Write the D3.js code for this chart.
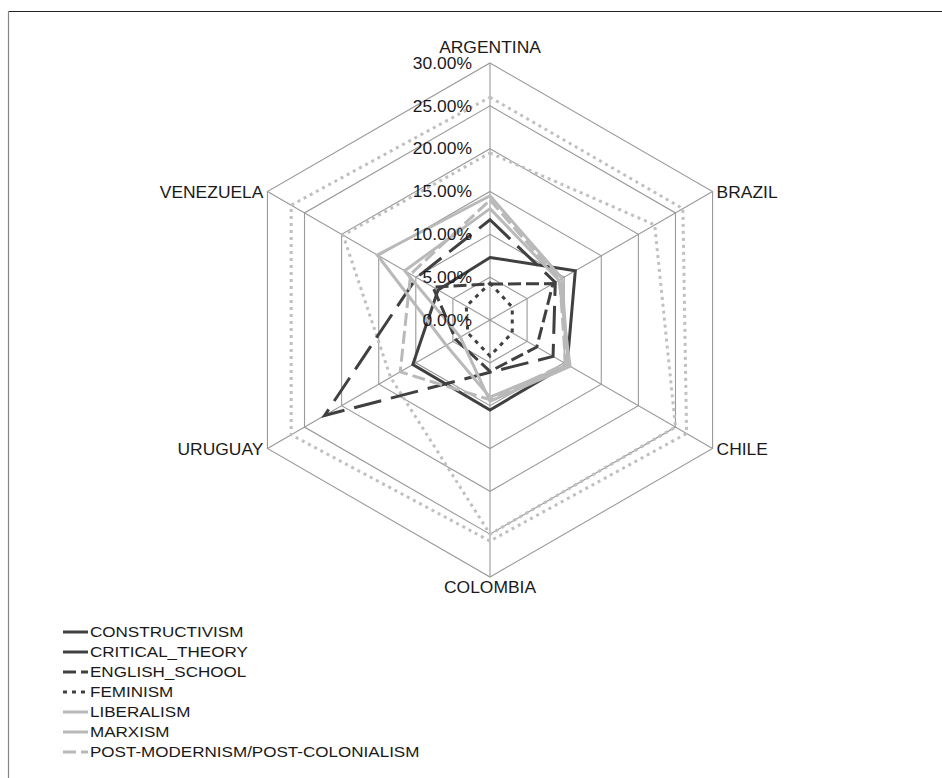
<!DOCTYPE html>
<html>
<head>
<meta charset="utf-8">
<script src="https://cdn.jsdelivr.net/npm/d3@7"></script>
<style>
  html, body { margin: 0; padding: 0; background: #fff; }
  text { font-family: "Liberation Sans", Arial, sans-serif; fill: #1a1a1a; }
</style>
</head>
<body>
<div id="chart"></div>
<script>
const width = 942;
const height = 778;
const cx = 490, cy = 320, R = 257;

// categories (clockwise from top)
const countries = ["ARGENTINA", "BRAZIL", "CHILE", "COLOMBIA", "URUGUAY", "VENEZUELA"];
const tickValues = [0, 5, 10, 15, 20, 25, 30];

// series values (%), same order as countries
const constructivism = [7.3, 11.5, 10.4, 10.5, 10.4, 7.0];
const criticalTheory = [11.7, 8.8, 8.5, 6.1, 22.3, 9.9];
const englishSchool  = [4.2, 8.5, 6.3, 6.0, 4.6, 7.7];
const feminism       = [4.3, 3.0, 3.0, 4.2, 3.0, 3.2];
const liberalism     = [14.5, 9.7, 10.5, 9.0, 5.9, 15.2];
const marxism        = [13.0, 9.3, 10.8, 9.5, 4.0, 11.5];
const postModernism  = [14.0, 9.4, 10.2, 9.3, 12.1, 10.7];
// two more series whose legend rows are cut off in the original
const realism        = [26.0, 26.0, 26.5, 25.8, 26.8, 26.8];
const otherTheories  = [19.5, 22.2, 25.0, 25.0, 13.4, 19.8];

const legendNames = ["CONSTRUCTIVISM", "CRITICAL_THEORY", "ENGLISH_SCHOOL", "FEMINISM",
  "LIBERALISM", "MARXISM", "POST-MODERNISM/POST-COLONIALISM"];

const dark = "#404040", light = "#b9b9b9";

// drawing order: background dotted first
const series = [
  { name: "REALISM", values: realism, color: "#c0c0c0", dash: "3,4", legend: false },
  { name: "OTHER", values: otherTheories, color: "#c0c0c0", dash: "3,4", legend: false },
  { name: legendNames[0], values: constructivism, color: dark, dash: null, legend: true },
  { name: legendNames[1], values: criticalTheory, color: dark, dash: "28,10", legend: true },
  { name: legendNames[2], values: englishSchool, color: dark, dash: "13,5", legend: true },
  { name: legendNames[3], values: feminism, color: dark, dash: "4,5", legend: true },
  { name: legendNames[4], values: liberalism, color: light, dash: null, legend: true },
  { name: legendNames[5], values: marxism, color: light, dash: null, legend: true },
  { name: legendNames[6], values: postModernism, color: light, dash: "13,5", legend: true }
];

const svg = d3.select("#chart").append("svg")
  .attr("width", width)
  .attr("height", height);

// frame (top + left edges visible in the original)
svg.append("line").attr("x1", 8).attr("x2", width).attr("y1", 11.5).attr("y2", 11.5)
  .attr("stroke", "#222").attr("stroke-width", 1.2);
svg.append("line").attr("x1", 8.5).attr("x2", 8.5).attr("y1", 11).attr("y2", height)
  .attr("stroke", "#888").attr("stroke-width", 1.2);

const rScale = d3.scaleLinear().domain([0, 30]).range([0, R]);
const angle = i => i * 2 * Math.PI / countries.length;
const pt = (i, v) => [cx + rScale(v) * Math.sin(angle(i)), cy - rScale(v) * Math.cos(angle(i))];

const closed = d3.line().curve(d3.curveLinearClosed);

// grid rings
svg.append("g").selectAll("path")
  .data(tickValues.filter(t => t > 0))
  .join("path")
  .attr("d", t => closed(countries.map((c, i) => pt(i, t))))
  .attr("fill", "none")
  .attr("stroke", "#9a9a9a")
  .attr("stroke-width", 1.1);

// spokes
svg.append("g").selectAll("line")
  .data(countries)
  .join("line")
  .attr("x1", cx).attr("y1", cy)
  .attr("x2", (c, i) => pt(i, 30)[0])
  .attr("y2", (c, i) => pt(i, 30)[1])
  .attr("stroke", "#9a9a9a")
  .attr("stroke-width", 1.1);

// series
svg.append("g").selectAll("path")
  .data(series)
  .join("path")
  .attr("d", s => closed(s.values.map((v, i) => pt(i, v))))
  .attr("fill", "none")
  .attr("stroke", s => s.color)
  .attr("stroke-width", 3)
  .attr("stroke-dasharray", s => s.dash)
  .attr("stroke-linejoin", "miter");

// tick labels
const fmt = d3.format(".2%");
svg.append("g").selectAll("text")
  .data(tickValues)
  .join("text")
  .attr("transform", t => `translate(472,${cy - rScale(t)}) scale(1.07,1)`)
  .attr("text-anchor", "end")
  .attr("dy", "0.35em")
  .style("font-size", "16.3px")
  .text(t => fmt(t / 100));

// category labels
svg.append("g").selectAll("text")
  .data(countries)
  .join("text")
  .attr("transform", (c, i) => {
    const [x, y] = pt(i, 30);
    const s = Math.sin(angle(i));
    let tx = x, ty = y;
    if (Math.abs(s) < 0.01) ty = Math.cos(angle(i)) > 0 ? y - 10 : y + 16;
    else { tx = x + (s > 0 ? 4 : -4); ty = y + 1; }
    return `translate(${tx},${ty}) scale(1.07,1)`;
  })
  .attr("text-anchor", (c, i) => {
    const s = Math.sin(angle(i));
    return Math.abs(s) < 0.01 ? "middle" : (s > 0 ? "start" : "end");
  })
  .attr("dy", (c, i) => Math.abs(Math.sin(angle(i))) < 0.01 ? null : "0.35em")
  .style("font-size", "16.3px")
  .text(c => c);

// legend
const legend = svg.append("g").selectAll("g")
  .data(series.filter(s => s.legend))
  .join("g")
  .attr("transform", (s, i) => `translate(63,${632 + i * 20})`);

legend.append("line")
  .attr("x1", 0).attr("x2", 25)
  .attr("stroke", s => s.color)
  .attr("stroke-width", 3)
  .attr("stroke-dasharray", s => s.dash);

legend.append("text")
  .attr("transform", "translate(27,0) scale(1.1,1)")
  .attr("dy", "0.35em")
  .style("font-size", "15.5px")
  .text(s => s.name);
</script>
</body>
</html>
